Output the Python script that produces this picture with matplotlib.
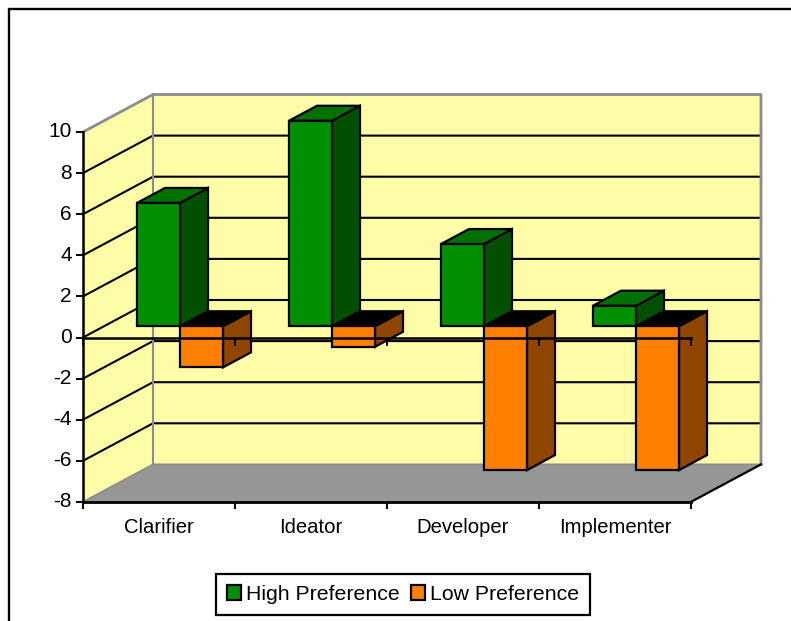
import matplotlib
matplotlib.use('Agg')
import matplotlib.pyplot as plt
from matplotlib.lines import Line2D
from matplotlib.patches import Patch, Polygon

categories = ['Clarifier', 'Ideator', 'Developer', 'Implementer']
high_pref = [6, 10, 4, 1]
low_pref = [-2, -1, -7, -7]
y_ticks = [10, 8, 6, 4, 2, 0, -2, -4, -6, -8]

plt.rcParams['font.family'] = ['Liberation Sans', 'DejaVu Sans']

W, H = 791, 621
# 3d look: how far the back wall is shifted, in axis units
PX_CAT = 152.0      # pixels per category
PX_VAL = 20.55      # pixels per value unit
X0, Y0 = 83.0, 337.5  # pixel of category 0, value 0
DX = 70 / PX_CAT
DY = 37.5 / PX_VAL

BAR_W = 43 / PX_CAT
BAR_GAP = (1 - 2 * BAR_W) / 2
D_FRONT, D_BACK = 0.30, 0.70

YMIN, YMAX = min(y_ticks), max(y_ticks)
N = len(categories)

GREEN = ('#008F00', '#005000', '#007000')
ORANGE = ('#FF7F00', '#904500', '#000000')

fig = plt.figure(figsize=(W / 100, H / 100), dpi=100)
ax = fig.add_axes([0, 0, 1, 1])
ax.set_xlim(-X0 / PX_CAT, (W - X0) / PX_CAT)
ax.set_ylim((Y0 - H) / PX_VAL, Y0 / PX_VAL)
ax.axis('off')


def pt(c, v, d=0.0):
    # oblique projection: depth d moves a point right and up
    return (c + d * DX, v + d * DY)


def face(pts, color, z=3, lw=1.6, ec='black'):
    ax.add_patch(Polygon(pts, closed=True, fc=color, ec=ec, lw=lw, zorder=z, joinstyle='miter'))


# walls and floor
wall = '#FFFCA8'
grey = '#8C8C8C'
face([pt(0, YMIN), pt(0, YMAX), pt(0, YMAX, 1), pt(0, YMIN, 1)], wall, z=1, lw=0)
face([pt(0, YMIN, 1), pt(0, YMAX, 1), pt(N, YMAX, 1), pt(N, YMIN, 1)], wall, z=1, lw=0)
face([pt(0, YMIN), pt(N, YMIN), pt(N, YMIN, 1), pt(0, YMIN, 1)], '#969696', z=1, lw=0)

# gridlines
for v in y_ticks[1:-1]:
    ax.plot(*zip(pt(0, v), pt(0, v, 1), pt(N, v, 1)), color='black', lw=1.5, zorder=2)

# wall edges
ax.plot(*zip(pt(0, YMIN), pt(0, YMIN, 1), pt(N, YMIN, 1)), color=grey, lw=1.3, zorder=2)
ax.plot(*zip(pt(0, YMAX), pt(0, YMAX, 1), pt(N, YMAX, 1), pt(N, YMIN, 1)), color=grey, lw=2, zorder=2)
ax.plot(*zip(pt(0, YMIN, 1), pt(0, YMAX, 1)), color=grey, lw=1.5, zorder=2)
ax.plot(*zip(pt(N, YMIN), pt(N, YMIN, 1)), color='black', lw=1.6, zorder=2)


def bar(left, value, colors, z):
    right = left + BAR_W
    front, side, top = colors
    low, high = min(value, 0), max(value, 0)
    face([pt(right, low, D_FRONT), pt(right, high, D_FRONT), pt(right, high, D_BACK), pt(right, low, D_BACK)], side, z)
    face([pt(left, high, D_FRONT), pt(right, high, D_FRONT), pt(right, high, D_BACK), pt(left, high, D_BACK)], top, z)
    face([pt(left, low, D_FRONT), pt(right, low, D_FRONT), pt(right, high, D_FRONT), pt(left, high, D_FRONT)], front, z)


for i in range(N):
    bar(i + BAR_GAP, high_pref[i], GREEN, 3 + i * 0.1)
    bar(i + BAR_GAP + BAR_W, low_pref[i], ORANGE, 3.05 + i * 0.1)

# axes on top of the bars
ax.plot([0, 0], [YMIN, YMAX], color='black', lw=1.8, zorder=6)
ax.plot([0, N], [YMIN, YMIN], color='black', lw=2, zorder=6)
ax.plot([0, N], [0, 0], color='black', lw=1.8, zorder=6)
for i in range(N + 1):
    ax.plot([i, i], [YMIN, YMIN - 6 / PX_VAL], color='black', lw=1.4, zorder=6)
    ax.plot([i, i], [0, -7 / PX_VAL], color='black', lw=1.4, zorder=6)

for v in y_ticks:
    ax.plot([-6 / PX_CAT, 0], [v, v], color='black', lw=1.4, zorder=6)
    ax.text(-11 / PX_CAT, v, str(v), ha='right', va='center', fontsize=15, color='black')

for i, name in enumerate(categories):
    ax.text(i + 0.5, YMIN - 25.5 / PX_VAL, name, ha='center', va='center', fontsize=14.6, color='black')

handles = [Patch(fc=GREEN[0], ec='black', lw=1.6), Patch(fc=ORANGE[0], ec='black', lw=1.6)]
leg = ax.legend(handles, ['High Preference', 'Low Preference'], ncol=2, loc='center',
                bbox_to_anchor=(403 / W, 1 - 594.5 / H), bbox_transform=fig.transFigure,
                fontsize=15.3, fancybox=False, framealpha=1, edgecolor='black',
                handlelength=0.66, handleheight=0.66, handletextpad=0.235, columnspacing=0.5,
                borderpad=0.52, borderaxespad=0)
leg.get_frame().set_linewidth(1.6)
leg.set_zorder(8)

# outer frame, only left and top fall inside the picture
fig.add_artist(Line2D([8.5 / W, 8.5 / W, 1], [0, 1 - 8.5 / H, 1 - 8.5 / H], color='black', lw=1.7,
                      transform=fig.transFigure, solid_joinstyle='miter'))

fig.savefig('out.png', dpi=100)
